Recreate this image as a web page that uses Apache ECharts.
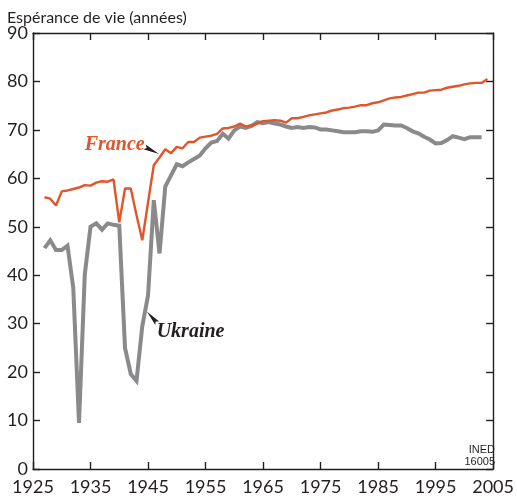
<!DOCTYPE html>
<html>
<head>
<meta charset="utf-8">
<script src="https://cdn.jsdelivr.net/npm/echarts@6/dist/echarts.min.js"></script>
<style>
  html, body { margin: 0; padding: 0; background: #fff; }
  #chart { width: 517px; height: 504px; }
</style>
</head>
<body>
<div id="chart"></div>
<script>
// espérance de vie à la naissance, France et Ukraine
const yearsFrance = [];
for (let y = 1927; y <= 2004; y++) yearsFrance.push(y);
const yearsUkraine = [];
for (let y = 1927; y <= 2003; y++) yearsUkraine.push(y);

const france = [
  56.1, 55.8, 54.4, 57.3, 57.5, 57.8, 58.1, 58.6, 58.5, 59.1,
  59.4, 59.3, 59.8, 50.9, 57.9, 57.9, 52.4, 47.2, 55.0, 62.7,
  64.3, 66.0, 65.2, 66.5, 66.2, 67.5, 67.5, 68.4, 68.6, 68.8,
  69.2, 70.3, 70.4, 70.7, 71.3, 70.7, 70.9, 71.3, 71.8, 71.9,
  72.0, 71.9, 71.5, 72.4, 72.4, 72.7, 73.0, 73.2, 73.4, 73.6,
  74.0, 74.2, 74.5, 74.6, 74.8, 75.1, 75.1, 75.5, 75.7, 76.1,
  76.5, 76.7, 76.8, 77.1, 77.4, 77.7, 77.7, 78.1, 78.2, 78.3,
  78.7, 78.9, 79.1, 79.4, 79.6, 79.7, 79.7, 80.5
];

const ukraine = [
  45.6, 47.2, 45.2, 45.2, 46.1, 37.4, 9.5, 40.1, 50.0, 50.7,
  49.4, 50.7, 50.4, 50.2, 25.0, 19.6, 18.2, 29.5, 35.8, 55.5,
  44.5, 58.3, 60.6, 62.9, 62.5, 63.3, 64.0, 64.7, 66.2, 67.4,
  67.7, 69.2, 68.2, 69.9, 70.7, 70.4, 70.8, 71.6, 71.4, 71.6,
  71.3, 71.1, 70.7, 70.4, 70.6, 70.4, 70.6, 70.5, 70.1, 70.1,
  69.9, 69.7, 69.5, 69.5, 69.5, 69.7, 69.7, 69.6, 69.9, 71.1,
  71.0, 70.9, 70.9, 70.4, 69.7, 69.3, 68.6, 68.0, 67.2, 67.3,
  67.9, 68.7, 68.4, 68.1, 68.5, 68.5, 68.5
];

const orange = "#e0552a";
const grey = "#8a8a8c";
const ink = "#231f20";
const tickFont = "Lato, 'Open Sans', sans-serif";

const chart = echarts.init(document.getElementById("chart"));

function axisBase() {
  return {
    type: "value",
    axisLine: { show: true, onZero: false, lineStyle: { color: ink, width: 1.4 } },
    axisTick: { show: true, inside: true, length: 7, lineStyle: { color: ink, width: 1.4 } },
    splitLine: { show: false }
  };
}

chart.setOption({
  animation: false,
  backgroundColor: "#fff",
  grid: { left: 33, right: 19, top: 33, bottom: 35 },
  title: {
    text: "Espérance de vie (années)",
    left: 2, top: 5,
    textStyle: { fontFamily: tickFont, fontSize: 16, fontWeight: "normal", color: ink }
  },
  xAxis: [
    Object.assign(axisBase(), {
      position: "bottom", min: 1925, max: 2005, interval: 10,
      axisLabel: { color: ink, fontFamily: tickFont, fontSize: 18, margin: 9, formatter: v => String(v) }
    }),
    Object.assign(axisBase(), {
      position: "top", min: 1925, max: 2005, interval: 10,
      axisLabel: { show: false }
    })
  ],
  yAxis: [
    Object.assign(axisBase(), {
      position: "left", min: 0, max: 90, interval: 10,
      axisLabel: { color: ink, fontFamily: tickFont, fontSize: 18, margin: 5, formatter: v => String(v) }
    }),
    Object.assign(axisBase(), {
      position: "right", min: 0, max: 90, interval: 10,
      axisLabel: { show: false }
    })
  ],
  series: [
    {
      name: "Ukraine", type: "line", showSymbol: false,
      data: yearsUkraine.map((y, i) => [y, ukraine[i]]),
      lineStyle: { color: grey, width: 4, join: "miter" }
    },
    {
      name: "France", type: "line", showSymbol: false,
      data: yearsFrance.map((y, i) => [y, france[i]]),
      lineStyle: { color: orange, width: 2.4 }
    }
  ]
});

// étiquettes des courbes et flèches, placées en coordonnées de données
function px(p) { return chart.convertToPixel({ gridIndex: 0 }, p); }
const franceTxt = px([1939.2, 67.0]);
const ukraineTxt = px([1946.5, 28.3]);
const fTip = px([1946.9, 65.0]);
const fTail = px([1944.4, 66.5]);
const uTip = px([1944.8, 32.5]);
const uTail = px([1946.6, 30.1]);

function arrow(tip, tail) {
  const dx = tail[0] - tip[0], dy = tail[1] - tip[1];
  const len = Math.sqrt(dx * dx + dy * dy);
  const nx = -dy / len * 2.6, ny = dx / len * 2.6;
  return {
    type: "polygon",
    shape: { points: [tip, [tail[0] + nx, tail[1] + ny], [tail[0] + dx * -0.15, tail[1] + dy * -0.15], [tail[0] - nx, tail[1] - ny]] },
    style: { fill: ink }
  };
}

chart.setOption({
  graphic: [
    {
      type: "text", x: franceTxt[0], y: franceTxt[1],
      style: { text: "France", fill: orange, font: "italic bold 20px 'Liberation Serif', serif", textAlign: "center", textVerticalAlign: "middle" }
    },
    {
      type: "text", x: ukraineTxt[0], y: ukraineTxt[1],
      style: { text: "Ukraine", fill: ink, font: "italic bold 20px 'Liberation Serif', serif", textAlign: "left", textVerticalAlign: "middle" }
    },
    arrow(fTip, fTail),
    arrow(uTip, uTail),
    {
      type: "text", right: 22, bottom: 36,
      style: { text: "INED\n16005", fill: ink, font: "11px 'Liberation Sans', sans-serif", textAlign: "right", lineHeight: 12 }
    }
  ]
});
</script>
</body>
</html>
